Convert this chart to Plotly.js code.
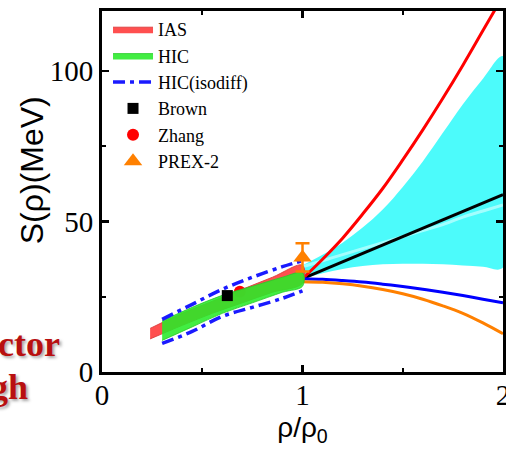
<!DOCTYPE html>
<html>
<head>
<meta charset="utf-8">
<script src="https://cdn.plot.ly/plotly-3.0.1.min.js"></script>
<style>html,body{margin:0;padding:0;background:#fff;}</style>
</head>
<body>
<div id="chart" style="width:506px;height:449px;"></div>
<script>
// ---- data ----
var iasX    = [0.24, 0.40, 0.55, 0.70, 0.85, 1.00];
var iasLow  = [11.0, 15.5, 19.5, 23.0, 26.5, 29.5];
var iasHigh = [14.5, 19.5, 23.5, 27.5, 31.5, 35.5];

var hicX    = [0.30, 0.45, 0.60, 0.75, 0.90, 1.00];
var hicLow  = [10.5, 15.0, 19.5, 23.0, 26.5, 28.5];
var hicHigh = [17.0, 21.5, 25.5, 28.5, 31.5, 33.0];

var isoX    = [0.30, 0.45, 0.60, 0.75, 0.90, 1.00];
var isoLow  = [9.5, 13.5, 18.5, 21.5, 24.5, 27.0];
var isoHigh = [17.5, 22.5, 27.5, 31.5, 35.0, 37.0];

var hiX       = [1.0, 1.1, 1.2, 1.3, 1.4, 1.5, 1.6, 1.7, 1.8, 1.9, 2.0];
var cyanLow   = [31.0, 32.8, 34.2, 35.2, 35.8, 36.0, 36.0, 35.8, 35.4, 35.0, 34.7];
var cyanHigh  = [35.5, 39.0, 43.0, 48.0, 54.0, 61.5, 70.0, 79.5, 89.0, 97.5, 105.0];
var cyanSeam  = [35.0, 37.0, 39.0, 41.0, 43.0, 45.0, 47.0, 49.0, 51.5, 53.5, 55.5];
var blackLine = [31.0, 33.8, 36.6, 39.4, 42.2, 45.0, 47.8, 50.6, 53.4, 56.2, 59.0];
var redLine   = [31.0, 37.5, 44.5, 52.5, 61.0, 70.5, 80.5, 91.0, 102.0, 113.5, 125.0];
var blueLine  = [31.0, 30.8, 30.4, 29.9, 29.2, 28.4, 27.5, 26.5, 25.4, 24.2, 23.0];
var orangeLine= [30.0, 29.8, 29.3, 28.5, 27.4, 26.0, 24.2, 22.0, 19.5, 16.3, 12.7];

var brownX = [0.625], brownY = [25.4];
var zhangX = [0.6875], zhangY = [26.65];
var prexX  = [1.0],  prexY  = [38.1], prexErr = [4.7];

var xTicks = [0, 1, 2];
var yTicks = [0, 50, 100];

// ---- helpers: closed polygon from a lower/upper pair ----
function bandX(x){ return x.concat(x.slice().reverse()); }
function bandY(lo, hi){ return lo.concat(hi.slice().reverse()); }

var traces = [
  {x: zhangX, y: zhangY, mode:'markers', name:'Zhang', legendrank:5,
   marker:{symbol:'circle', size:12, color:'#ff0000'}},
  {x: bandX(hiX), y: bandY(cyanLow, cyanHigh), mode:'lines', fill:'toself',
   fillcolor:'rgba(0,250,250,0.7)', line:{width:0, shape:'spline'}, showlegend:false, hoverinfo:'skip'},
  {x: hiX, y: cyanSeam, mode:'lines', line:{color:'rgba(185,255,255,0.8)', width:3, shape:'spline'}, showlegend:false},
  {x: hiX, y: blackLine, mode:'lines', line:{color:'#000000', width:3}, showlegend:false},
  {x: hiX, y: redLine, mode:'lines', line:{color:'#ff0000', width:3, shape:'spline'}, showlegend:false},
  {x: hiX, y: blueLine, mode:'lines', line:{color:'#0000ff', width:3, shape:'spline'}, showlegend:false},
  {x: hiX, y: orangeLine, mode:'lines', line:{color:'#ff8000', width:3, shape:'spline'}, showlegend:false},
  {x: bandX(iasX), y: bandY(iasLow, iasHigh), mode:'lines', fill:'toself', name:'IAS', legendrank:1,
   fillcolor:'rgba(255,60,60,0.9)', line:{width:1, color:'rgba(220,60,60,0.9)', shape:'spline'}},
  {x: bandX(hicX), y: bandY(hicLow, hicHigh), mode:'lines', fill:'toself', name:'HIC', legendrank:2,
   fillcolor:'rgba(40,235,40,0.88)', line:{width:1, color:'rgba(40,200,40,0.8)', shape:'spline'}},
  {x: isoX, y: isoHigh, mode:'lines', name:'HIC(isodiff)', legendrank:3, legendgroup:'iso',
   line:{color:'#1a1aff', width:3.5, dash:'12px,5px,4px,5px', shape:'spline'}},
  {x: isoX, y: isoLow, mode:'lines', legendgroup:'iso', showlegend:false,
   line:{color:'#1a1aff', width:3.5, dash:'12px,5px,4px,5px', shape:'spline'}},
  {x: brownX, y: brownY, mode:'markers', name:'Brown', legendrank:4,
   marker:{symbol:'square', size:11, color:'#000000'}},
  {x: prexX, y: prexY, mode:'markers', name:'PREX-2', legendrank:6,
   marker:{symbol:'triangle-up', size:16, color:'#ff8000'},
   error_y:{type:'data', array: prexErr, color:'#ff8000', thickness:2.5, width:7}}
];

var serif = '"Liberation Serif", "Times New Roman", serif';
var sans = '"Liberation Sans", Arial, sans-serif';
var axFont = {family:serif, size:29, color:'#000'};
var layout = {
  width:506, height:449,
  margin:{l:102, r:3, t:11, b:77},
  paper_bgcolor:'#ffffff', plot_bgcolor:'#ffffff',
  showlegend:true,
  legend:{x:0.015, y:1.0, xanchor:'left', yanchor:'top', bgcolor:'rgba(0,0,0,0)',
          font:{family:serif, size:18, color:'#000'},
          itemwidth:40, tracegroupgap:0},
  xaxis:{range:[0,2], tickmode:'array', tickvals:xTicks, ticktext:xTicks.map(String),
         ticks:'inside', ticklen:7, tickwidth:2.5, tickcolor:'#000',
         showline:true, linewidth:3, linecolor:'#000', mirror:'ticks',
         showgrid:false, zeroline:false, tickfont:axFont, ticklabeloverflow:'allow', ticklabelstandoff:-5,
         minor:{ticks:'inside', tickmode:'linear', tick0:0, dtick:0.5, ticklen:4, tickwidth:2, tickcolor:'#000', showgrid:false},
         title:{text:'ρ/ρ<sub>0</sub>', font:{family:sans, size:28, color:'#000'}, standoff:8}},
  yaxis:{range:[0,120], tickmode:'array', tickvals:yTicks, ticktext:yTicks.map(String),
         ticks:'inside', ticklen:7, tickwidth:2.5, tickcolor:'#000',
         showline:true, linewidth:3, linecolor:'#000', mirror:'ticks',
         showgrid:false, zeroline:false, tickfont:axFont, ticklabeloverflow:'allow',
         minor:{ticks:'inside', tickmode:'linear', tick0:0, dtick:25, ticklen:4, tickwidth:2, tickcolor:'#000', showgrid:false}},
  annotations:[
    {xref:'paper', yref:'paper', x:-0.176, y:0.56, xanchor:'center', yanchor:'middle', showarrow:false,
     textangle:-90, text:'S(ρ)(MeV)', font:{family:sans, size:32, color:'#000'}},
    {xref:'paper', yref:'paper', x:-0.0998, y:0.0776, xanchor:'right', yanchor:'middle', showarrow:false,
     text:'<b>ctor</b>', font:{family:serif, size:36, color:'#b81010',
     shadow:'2px 2px 3px rgba(0,0,0,0.35)'}},
    {xref:'paper', yref:'paper', x:-0.1796, y:-0.0416, xanchor:'right', yanchor:'middle', showarrow:false,
     text:'<b>gh</b>', font:{family:serif, size:36, color:'#b81010',
     shadow:'2px 2px 3px rgba(0,0,0,0.35)'}}
  ]
};

Plotly.newPlot('chart', traces, layout, {staticPlot:true, displayModeBar:false});
</script>
</body>
</html>
